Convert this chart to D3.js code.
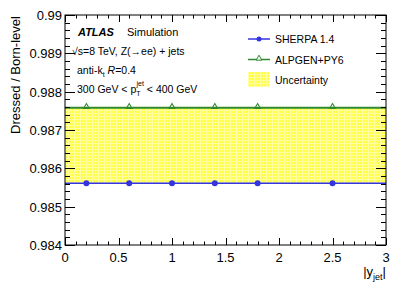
<!DOCTYPE html>
<html><head><meta charset="utf-8">
<script src="https://cdn.jsdelivr.net/npm/d3@7"></script>
<style>body{margin:0;background:#fff}text{font-family:"Liberation Sans",Arial,sans-serif}</style>
</head><body>
<svg id="c" width="407" height="292"></svg>
<script>
const binEdges = [0, 0.4, 0.8, 1.2, 1.6, 2.0, 3.0];
const xPoints = [0.2, 0.6, 1.0, 1.4, 1.8, 2.5];
const sherpa = [0.98561, 0.98561, 0.98561, 0.98561, 0.98561, 0.98561];
const alpgen = [0.98758, 0.98758, 0.98758, 0.98758, 0.98758, 0.98758];
const xTicks = [0, 0.5, 1, 1.5, 2, 2.5, 3];
const yTicks = [0.984, 0.985, 0.986, 0.987, 0.988, 0.989, 0.99];

const svg = d3.select("#c");
const L = 65, R = 386, T = 15, B = 245;
const x = d3.scaleLinear().domain([0, 3]).range([L, R]);
const y = d3.scaleLinear().domain([0.984, 0.99]).range([B, T]);

const defs = svg.append("defs");
const pat = defs.append("pattern").attr("id", "hatch").attr("patternUnits", "userSpaceOnUse")
  .attr("width", 3).attr("height", 3);
pat.append("rect").attr("width", 3).attr("height", 3).attr("fill", "#ffff4a");
pat.append("rect").attr("x", 2).attr("width", 1).attr("height", 3).attr("fill", "#ffffa0");
pat.append("rect").attr("y", 2).attr("width", 3).attr("height", 1).attr("fill", "#ffffa0");

// uncertainty band
const bandData = sherpa.map((s, i) => ({x0: binEdges[i], x1: binEdges[i + 1], lo: Math.min(s, alpgen[i]), hi: Math.max(s, alpgen[i])}));
svg.selectAll("rect.band").data(bandData).enter().append("rect")
  .attr("x", d => x(d.x0)).attr("width", d => x(d.x1) - x(d.x0))
  .attr("y", d => y(d.hi)).attr("height", d => y(d.lo) - y(d.hi))
  .attr("fill", "url(#hatch)");

function stepLine(vals, color, w) {
  const pts = [];
  vals.forEach((v, i) => { pts.push([binEdges[i], v]); pts.push([binEdges[i + 1], v]); });
  svg.append("path").attr("d", d3.line().x(d => x(d[0])).y(d => y(d[1]))(pts))
    .attr("fill", "none").attr("stroke", color).attr("stroke-width", w);
}
stepLine(alpgen, "#2f8a2f", 2);
stepLine(sherpa, "#3434e0", 1.6);

svg.selectAll("circle.sh").data(xPoints).enter().append("circle")
  .attr("cx", d => x(d)).attr("cy", (d, i) => y(sherpa[i])).attr("r", 3).attr("fill", "#3434e0");
const tri = d3.symbol().type(d3.symbolTriangle).size(14);
svg.selectAll("path.al").data(xPoints).enter().append("path")
  .attr("d", tri).attr("transform", (d, i) => `translate(${x(d)},${y(alpgen[i]) - 1})`)
  .attr("fill", "none").attr("stroke", "#2f8a2f").attr("stroke-width", 1.1);

// frame
svg.append("rect").attr("x", L).attr("y", T).attr("width", R - L).attr("height", B - T)
  .attr("fill", "none").attr("stroke", "#000").attr("stroke-width", 1);

// ticks
const tk = svg.append("g").attr("stroke", "#000").attr("stroke-width", 1);
d3.range(0, 3.0001, 0.1).forEach((v, i) => {
  const len = (i % 5 === 0) ? 7 : 3.5;
  const px = Math.round(x(v)) + 0.5;
  tk.append("line").attr("x1", px).attr("x2", px).attr("y1", B).attr("y2", B - len);
  tk.append("line").attr("x1", px).attr("x2", px).attr("y1", T).attr("y2", T + len);
});
d3.range(0, 30.0001, 1).forEach(i => {
  const v = 0.984 + i * 0.0002;
  const len = (i % 5 === 0) ? 10 : 5;
  const py = Math.round(y(v)) + 0.5;
  tk.append("line").attr("x1", L).attr("x2", L + len).attr("y1", py).attr("y2", py);
  tk.append("line").attr("x1", R).attr("x2", R - len).attr("y1", py).attr("y2", py);
});

// tick labels
svg.selectAll("text.xt").data(xTicks).enter().append("text")
  .attr("x", d => x(d)).attr("y", B + 17).attr("text-anchor", "middle")
  .attr("font-size", 13).text(d => d3.format("")(d));
svg.selectAll("text.yt").data(yTicks).enter().append("text")
  .attr("x", L - 3).attr("y", d => y(d) + 5).attr("text-anchor", "end")
  .attr("font-size", 13).text(d => d3.format(".3~f")(d));

// axis titles
svg.append("text").attr("transform", "translate(20,75) rotate(-90)").attr("text-anchor", "middle")
  .attr("font-size", 13).text("Dressed / Born-level");
const xt = svg.append("text").attr("x", R).attr("y", 276).attr("text-anchor", "end").attr("font-size", 13);
xt.append("tspan").text("|y");
xt.append("tspan").attr("font-size", 9).attr("dy", 4).text("jet");
xt.append("tspan").attr("dy", -4).text("|");

// annotations
svg.append("text").attr("x", 78).attr("y", 36).attr("font-size", 11).attr("font-weight", "bold")
  .attr("font-style", "italic").text("ATLAS");
svg.append("text").attr("x", 127).attr("y", 36).attr("font-size", 11).text("Simulation");
svg.append("text").attr("x", 72).attr("y", 55).attr("font-size", 10.5).text("\u221As=8 TeV, Z(\u2192ee) + jets");
const t3 = svg.append("text").attr("x", 77).attr("y", 74).attr("font-size", 10.5);
t3.append("tspan").text("anti-k");
t3.append("tspan").attr("font-size", 7).attr("dy", 3).text("t");
t3.append("tspan").attr("dy", -3).text(" ");
t3.append("tspan").attr("font-style", "italic").text("R");
t3.append("tspan").text("=0.4");
const t4 = svg.append("text").attr("x", 77).attr("y", 93).attr("font-size", 10.5);
t4.append("tspan").text("300 GeV < p");
t4.append("tspan").attr("font-size", 7).attr("dy", 3).text("T");
t4.append("tspan").attr("font-size", 7).attr("dx", -4).attr("dy", -10).text("jet");
t4.append("tspan").attr("dy", 7).text(" < 400 GeV");

// legend
const leg = [
  {label: "SHERPA 1.4", color: "#3434e0", type: "circle"},
  {label: "ALPGEN+PY6", color: "#2f8a2f", type: "tri"},
  {label: "Uncertainty", type: "band"}
];
leg.forEach((d, i) => {
  const cy = 39 + i * 20.5;
  if (d.type === "band") {
    svg.append("rect").attr("x", 248).attr("y", cy - 8).attr("width", 22).attr("height", 15).attr("fill", "url(#hatch)");
  } else {
    svg.append("line").attr("x1", 248).attr("x2", 270).attr("y1", cy).attr("y2", cy).attr("stroke", d.color).attr("stroke-width", 1.5);
    if (d.type === "circle") svg.append("circle").attr("cx", 259).attr("cy", cy).attr("r", 2.5).attr("fill", d.color);
    else svg.append("path").attr("d", tri).attr("transform", `translate(259,${cy - 1})`).attr("fill", "#fff").attr("stroke", d.color).attr("stroke-width", 1);
  }
  svg.append("text").attr("x", 275).attr("y", cy + 4).attr("font-size", 10.5).text(d.label);
});
</script>
</body></html>
